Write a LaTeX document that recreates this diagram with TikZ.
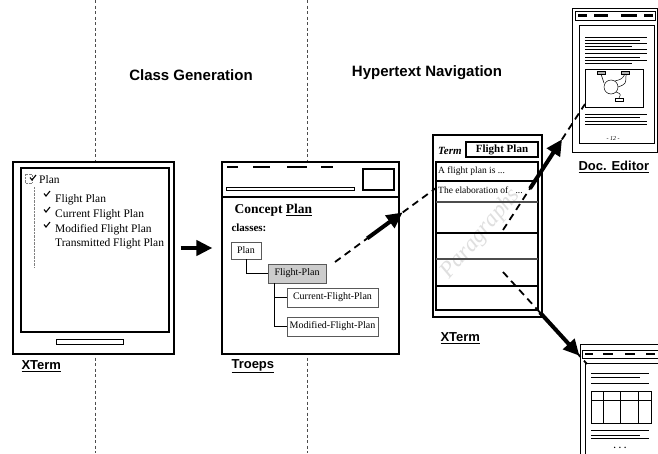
\documentclass[tikz,border=0pt]{standalone}
\usepackage{fontspec}
\setmainfont{Liberation Serif}
\setsansfont{Liberation Sans}
\usetikzlibrary{arrows.meta,calc}

\begin{document}
\begin{tikzpicture}[x=1pt, y=-1pt,
	frame/.style={draw, fill=white, line width=1.2pt, inner sep=0pt},
	classbox/.style={draw, gray!70!black, line width=0.7pt, text=black, font=\fontsize{10}{10}\selectfont, inner sep=0pt, minimum height=19pt},
	winlabel/.style={anchor=west, font=\sffamily\bfseries\fontsize{13}{13}\selectfont},
	phase/.style={font=\sffamily\bfseries\fontsize{15}{15}\selectfont},
	item/.style={anchor=west, inner sep=0pt, font=\fontsize{11.5}{12}\selectfont},
	link/.style={line width=1.8pt, dash pattern=on 7pt off 5pt},
	bigarrow/.style={line width=4pt, -{Triangle[length=16pt,width=15pt]}},
	chk/.pic={\draw[line width=1.1pt] (-3,-0.5) -- (-1,2) -- (3,-3);}]
	
	\useasboundingbox (0,0) rectangle (658,453);
	
	%phase separators
		\foreach \x in {95, 307}{
			\draw[gray!60!black, line width=0.6pt, dash pattern=on 3pt off 2.5pt] (\x,0) -- (\x,453);
		}
		\node[phase] (cgen) at (191,75) {Class Generation};
		\node[phase] (hnav) at (427,73) {Hypertext Navigation};
		
	%left xterm
		\node[frame, minimum width=161pt, minimum height=192pt] (xterm) at (93.5,258) {};
		\draw[line width=1.2pt] (21,168) rectangle (169,332);
		\draw[line width=0.8pt] (56,339) rectangle (123,344);
		\node[winlabel] (xtermlbl) at (18,366) {\underline{XTerm}};
		\draw[gray, densely dotted] (25,174) rectangle (32,183);
		\pic at (33,178) {chk};
		\draw[gray, densely dotted] (34,187) -- (34,268);
		\node[item] (tplan) at (39,180) {Plan};
		\pic at (47,194) {chk};
		\pic at (47,210) {chk};
		\pic at (47,225) {chk};
		\node[item] (tfp) at (55,200) {Flight Plan};
		\node[item] (tcfp) at (55,215) {Current Flight Plan};
		\node[item] (tmfp) at (55,230) {Modified Flight Plan};
		\node[item] (ttfp) at (55,244) {Transmitted Flight Plan};
		
	%troeps window
		\node[frame, minimum width=177pt, minimum height=192pt] (troeps) at (310.5,258) {};
		\draw[line width=1.2pt] (222,197) -- (399,197);
		\foreach \a/\b in {227/238, 253/270, 287/307, 321/333}{
			\draw[line width=2.8pt] (\a,167) -- (\b,167);
		}
		\draw[line width=1.2pt] (363,169) rectangle (394,190);
		\draw[line width=0.9pt] (226,187) rectangle (354,190);
		\node[anchor=west, font=\bfseries\fontsize{13.5}{14}\selectfont] (concept) at (231,210) {Concept \underline{Plan}};
		\node[anchor=west, font=\bfseries\fontsize{11}{12}\selectfont] (classes) at (228,228) {classes:};
		\node[classbox, minimum width=30pt, minimum height=17pt] (plan) at (246,250.5) {Plan};
		\node[classbox, fill=gray!40, minimum width=58pt] (fplan) at (297,273.5) {Flight-Plan};
		\node[classbox, minimum width=91pt] (cfplan) at (332.5,297.5) {Current-Flight-Plan};
		\node[classbox, minimum width=91pt] (mfplan) at (332.5,326.5) {Modified-Flight-Plan};
		\draw[line width=1pt] (plan.south) |- (fplan.west);
		\draw[line width=1pt] ([xshift=7pt]fplan.south west) |- (cfplan.west);
		\draw[line width=1pt] ([xshift=7pt]fplan.south west) |- (mfplan.west);
		\node[winlabel] (troepslbl) at (228,366) {\underline{Troeps}};
		
		\draw[bigarrow, shorten <=6pt, shorten >=9pt] ([yshift=10pt]xterm.east) -- ([yshift=10pt]troeps.west);
		
	%right xterm
		\node[frame, minimum width=109pt, minimum height=182pt] (xtr) at (487.5,226) {};
		\draw[line width=1.2pt] (436,162) rectangle (538,310);
		\node[rotate=50, text=gray!25, font=\itshape\fontsize{23}{23}\selectfont] (paras) at (481,234) {Paragraphs};
		\node[anchor=west, inner sep=0pt, font=\bfseries\itshape\fontsize{11}{11}\selectfont] (term) at (438,151) {Term};
		\node[draw, line width=1.1pt, inner sep=0pt, minimum width=72pt, minimum height=15pt, font=\bfseries\fontsize{11}{11}\selectfont] (termval) at (502,149.5) {Flight Plan};
		\foreach \y in {181, 233, 286}{
			\draw[line width=1.1pt] (436,\y) -- (538,\y);
		}
		\foreach \y in {202, 259}{
			\draw[gray!60!black, line width=1.1pt] (436,\y) -- (538,\y);
		}
		\node[anchor=west, inner sep=0pt, font=\fontsize{9.5}{10}\selectfont] (par1) at (438,171) {A flight plan is ...};
		\node[anchor=west, inner sep=0pt, font=\fontsize{9.5}{10}\selectfont] (par2) at (438,190) {The elaboration of \ \ ...};
		\node[winlabel] (xtrlbl) at (437,338) {\underline{XTerm}};
		
	%doc editor
		\node[frame, line width=1pt, minimum width=85pt, minimum height=144pt] (doced) at (614.5,80) {};
		\draw[line width=0.8pt] (575,11) rectangle (655,20);
		\foreach \a/\b in {578/587, 594/608, 621/637, 644/653}{
			\draw[line width=2.5pt] (\a,15.5) -- (\b,15.5);
		}
		\draw[line width=1pt] (579,25) rectangle (654,143);
		\foreach \y/\l in {37/647, 40/640, 43/647, 46/632, 49/647, 53/647, 57/640, 60/647, 63/632, 114/647, 117/640, 121/647, 124/647}{
			\draw[line width=0.9pt] (585,\y) -- (\l,\y);
		}
		\draw[line width=1pt] (585,69) rectangle (643,107);
		\draw[fill=gray!60, line width=0.4pt] (597,71) rectangle (605,74);
		\draw[fill=gray!60, line width=0.4pt] (621,71) rectangle (629,74);
		\draw[line width=0.5pt] (611,87) circle (7);
		\draw[line width=0.5pt] (601,74) -- (604,83);
		\draw[line width=0.5pt] (625,74) .. controls (622,79) .. (615,81);
		\draw[line width=0.5pt] (626,74) .. controls (626,84) .. (618,87);
		\draw[line width=0.5pt] (616,92) .. controls (621,94) .. (619,98);
		\draw[line width=0.4pt] (615,98) rectangle (623,101);
		\node[font=\itshape\fontsize{6}{6}\selectfont, inner sep=0pt] (pgnum) at (613,139) {- 12 -};
		\node[winlabel] (docedlbl) at (575,167) {\underline{Doc. Editor}};
		
	%other document
		\node[frame, line width=1pt, minimum width=90pt, minimum height=120pt, anchor=north west] (odoc) at (580,344) {};
		\draw[line width=0.8pt] (582,350) rectangle (662,358);
		\foreach \a/\b in {585/593, 603/613, 625/635, 646/655}{
			\draw[line width=2.5pt] (\a,354) -- (\b,354);
		}
		\draw[line width=1pt] (662,363) -- (585,363) -- (585,455);
		\foreach \y/\l in {373/649, 377/640, 383/649, 430/649, 435/640, 438/649}{
			\draw[line width=0.9pt] (591,\y) -- (\l,\y);
		}
		\draw[line width=1pt] (591,391) rectangle (651,423);
		\draw[line width=0.9pt] (591,400) -- (651,400);
		\foreach \x in {603, 620, 638}{
			\draw[line width=0.9pt] (\x,391) -- (\x,423);
		}
		\node[font=\bfseries\fontsize{9}{9}\selectfont, inner sep=0pt] (more) at (620,448) {. . .};
		
	%links
		\coordinate (s1) at (335,262);
		\coordinate (e1) at (436,188);
		\coordinate (s2) at (503,230);
		\coordinate (e2) at (585,104);
		\coordinate (s3) at (503,272);
		\coordinate (e3) at (587,364);
		\draw[link] (s1) -- (e1);
		\draw[bigarrow] ($(s1)!0.32!(e1)$) -- ($(s1)!0.67!(e1)$);
		\draw[link] (s2) -- (e2);
		\draw[bigarrow] ($(s2)!0.33!(e2)$) -- ($(s2)!0.72!(e2)$);
		\draw[link] (s3) -- (e3);
		\draw[bigarrow] ($(s3)!0.44!(e3)$) -- ($(s3)!0.91!(e3)$);
\end{tikzpicture}
\end{document}
